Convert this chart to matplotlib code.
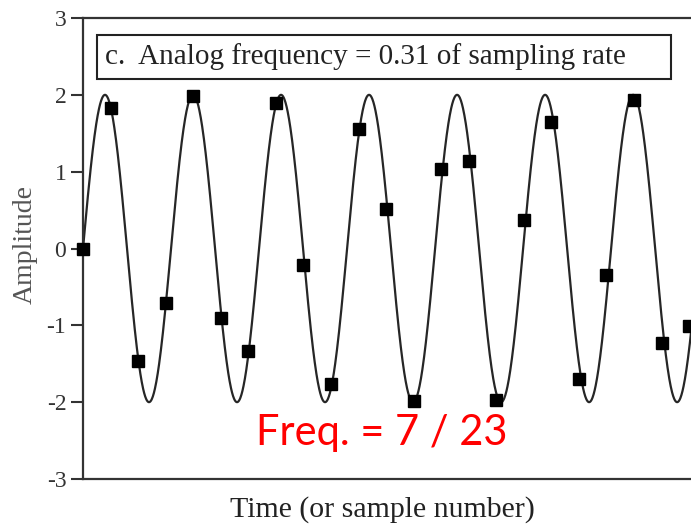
import numpy as np
import matplotlib
matplotlib.use("Agg")
import matplotlib.pyplot as plt
from matplotlib.patches import Rectangle

# sample values of the digitized signal, one per sample number
sample_n = list(range(23))
sample_amp = [0.0, 1.83, -1.47, -0.71, 1.99, -0.90, -1.33, 1.90, -0.21, -1.76,
              1.56, 0.51, -1.99, 1.04, 1.14, -1.97, 0.37, 1.64, -1.70, -0.35,
              1.93, -1.23, -1.01]

# analog signal: frequency as a fraction of the sampling rate (~0.31), and amplitude
analog_freq = 0.313
analog_amp = 2.0
yticks = [-3, -2, -1, 0, 1, 2, 3]

title_text = "c.  Analog frequency = 0.31 of sampling rate"
note_text = "Freq. = 7 / 23"

plt.rcParams["font.family"] = ["Liberation Serif", "DejaVu Serif"]
plt.rcParams["axes.unicode_minus"] = False

fig = plt.figure(figsize=(6.91, 5.25), dpi=100)
# the plot runs off the right side of the figure
ax = fig.add_axes([83 / 691, 1 - 479 / 525, 25 * 27.55 / 691, 461 / 525])

t = np.linspace(-0.2, 25, 2000)
ax.plot(t, analog_amp * np.sin(2 * np.pi * analog_freq * t), color="#262626", lw=1.6)
ax.plot(sample_n, sample_amp, "s", color="black", ms=9, clip_on=False, zorder=3)

ax.set_xlim(0, 25)
ax.set_ylim(-3, 3)
ax.set_yticks(yticks)
ax.set_xticks([])
ax.tick_params(axis="y", direction="out", length=9, width=1.5, labelsize=17,
               labelcolor="#333333", color="#333333", pad=3)
for s in ax.spines.values():
    s.set_linewidth(1.6)
    s.set_color("#333333")

ax.set_ylabel("Amplitude", fontsize=20, color="#555555")
ax.yaxis.set_label_coords(-0.065, 0.508)
ax.set_xlabel("Time (or sample number)", fontsize=21.5, color="#222222")
ax.xaxis.set_label_coords(0.435, -0.037)

# boxed caption at the top
fig.patches.append(Rectangle((97 / 691, 1 - 79 / 525), 574 / 691, 44 / 525,
                             transform=fig.transFigure, fill=True, facecolor="white",
                             edgecolor="#222222", lw=1.5, zorder=5))
fig.text(105 / 691, 1 - 57 / 525, title_text, fontsize=21, color="#222222",
         ha="left", va="center", zorder=6)

fig.text(256 / 691, 1 - 433 / 525, note_text, fontsize=30, color="red",
         family=["Lato", "DejaVu Sans"], ha="left", va="center")

fig.savefig("out.png", dpi=100)
